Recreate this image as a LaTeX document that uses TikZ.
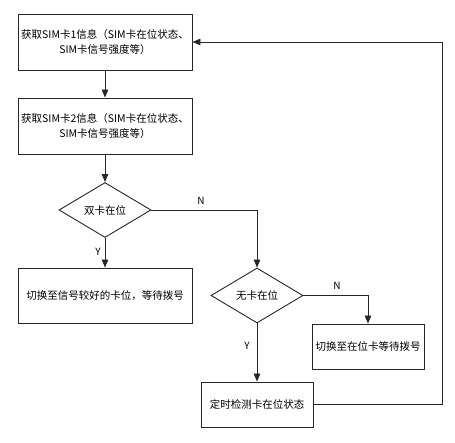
\documentclass[tikz,border=0pt]{standalone}
\usepackage{fontspec}
\setmainfont{Noto Sans CJK SC}
\usetikzlibrary{shapes.geometric,arrows.meta}
\begin{document}
\begin{tikzpicture}[x=1pt,y=-1pt,
  font=\fontsize{10.5}{15}\selectfont,
  line/.style={draw=black!85,line width=0.9pt},
  arr/.style={line,-{Triangle[length=8pt,width=6.5pt]}},
  box/.style={line,rectangle,inner sep=0pt,align=center},
  dia/.style={line,diamond,inner sep=0pt,minimum width=92pt,minimum height=55pt},
  lab/.style={inner sep=0pt,font=\fontsize{10}{12}\selectfont}]
\useasboundingbox (0,0) rectangle (455,443);
\node[box,minimum width=174pt,minimum height=56pt] (b1) at (105,42) {获取SIM卡1信息（SIM卡在位状态、\\SIM卡信号强度等）};
\node[box,minimum width=174pt,minimum height=56pt] (b2) at (105,126) {获取SIM卡2信息（SIM卡在位状态、\\SIM卡信号强度等）};
\node[dia] (d1) at (105,210) {双卡在位};
\node[box,minimum width=174pt,minimum height=55pt] (b3) at (105,295.5) {切换至信号较好的卡位，等待拨号};
\node[dia] (d2) at (257,295.5) {无卡在位};
\node[box,minimum width=112pt,minimum height=45pt] (b4) at (368,346.5) {切换至在位卡等待拨号};
\node[box,minimum width=112pt,minimum height=45pt] (b5) at (257,404.5) {定时检测卡在位状态};
\coordinate (r) at (442,404.5);
\draw[arr] (b1.south) -- (b2.north);
\draw[arr] (b2.south) -- (d1.north);
\draw[arr] (d1.south) -- (b3.north);
\draw[arr] (d1.east) -| (d2.north);
\draw[arr] (d2.east) -| (b4.north);
\draw[arr] (d2.south) -- (b5.north);
\draw[arr] (b5.east) -- (r) |- (b1.east);
\node[lab] (y1) at (98,252) {Y};
\node[lab] (n1) at (201,201) {N};
\node[lab] (n2) at (337,286) {N};
\node[lab] (y2) at (247,346) {Y};
\end{tikzpicture}
\end{document}
